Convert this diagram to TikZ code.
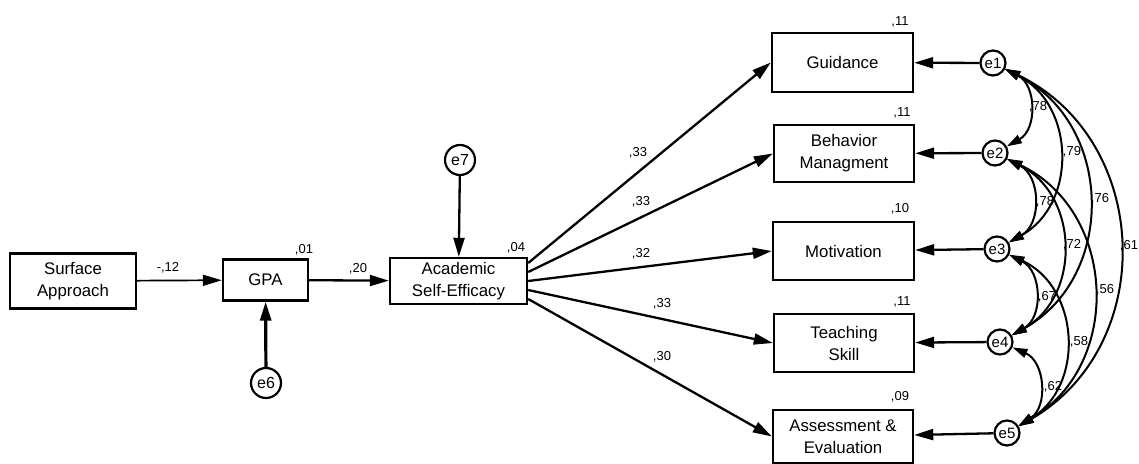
\documentclass[tikz,border=0pt]{standalone}
\usepackage{fontspec}
\setmainfont{Liberation Sans}
\usetikzlibrary{arrows.meta}
\begin{document}
\begin{tikzpicture}[x=0.5pt,y=0.5pt,
  box/.style={draw, line width=1.2pt, align=center, inner sep=0pt, font=\fontsize{8.4}{11}\selectfont},
  err/.style={draw, circle, line width=1.1pt, inner sep=0pt, minimum size=12.5pt, font=\fontsize{7.5}{9}\selectfont},
  errbig/.style={err, minimum size=15pt, font=\fontsize{8}{9}\selectfont},
  lab/.style={inner sep=0pt, font=\fontsize{6.5}{8}\selectfont},
  path/.style={line width=1.15pt, -{Triangle[length=9.5pt,width=5.5pt]}},
  corr/.style={line width=1pt, {Triangle[length=7.5pt,width=4.5pt]}-{Triangle[length=7.5pt,width=4.5pt]}, bend left=62, looseness=1.16},
]
\useasboundingbox (0,0) rectangle (1139,-464);

% left part
\node[box, minimum width=63pt, minimum height=27.5pt] (sa) at (73,-281) {Surface\\Approach};
\node[box, minimum width=42.5pt, minimum height=20.5pt] (gpa) at (265.5,-280) {GPA};
\node[box, minimum width=68.5pt, minimum height=23pt] (ase) at (458.5,-281) {Academic\\Self-Efficacy};
\node[errbig] (e7) at (460,-160) {e7};
\node[errbig] (e6) at (266,-383) {e6};

% right boxes
\node[box, minimum width=70.5pt, minimum height=29.5pt] (g) at (842.5,-62.5) {Guidance};
\node[box, minimum width=70pt, minimum height=28.5pt] (b) at (844,-153.5) {Behavior\\Managment};
\node[box, minimum width=70.5pt, minimum height=29pt] (m) at (843.5,-251) {Motivation};
\node[box, minimum width=70pt, minimum height=29pt] (t) at (844,-343) {Teaching\\Skill};
\node[box, minimum width=70pt, minimum height=26.5pt] (a) at (843,-436.5) {Assessment \&\\Evaluation};

% error terms
\node[err] (e1) at (993,-63) {e1};
\node[err] (e2) at (995,-153) {e2};
\node[err] (e3) at (997,-249) {e3};
\node[err] (e4) at (1000,-342) {e4};
\node[err] (e5) at (1007,-433) {e5};

% labels
\node[lab] at (168,-268) {-,12};
\node[lab] at (304,-250) {,01};
\node[lab] at (358,-269) {,20};
\node[lab] at (516,-248) {,04};
\node[lab] at (638,-153) {,33};
\node[lab] at (641,-202) {,33};
\node[lab] at (641,-254) {,32};
\node[lab] at (662,-304) {,33};
\node[lab] at (662,-357) {,30};
\node[lab] at (900,-22) {,11};
\node[lab] at (902,-113) {,11};
\node[lab] at (900,-209) {,10};
\node[lab] at (902,-302) {,11};
\node[lab] at (900,-397) {,09};
\node[lab] at (1038,-107) {,78};
\node[lab] at (1072,-152) {,79};
\node[lab] at (1045,-202) {,78};
\node[lab] at (1100,-199) {,76};
\node[lab] at (1072,-245) {,72};
\node[lab] at (1129,-246) {,61};
\node[lab] at (1047,-297) {,67};
\node[lab] at (1105,-290) {,56};
\node[lab] at (1079,-342) {,58};
\node[lab] at (1053,-387) {,62};

% paths
\draw[path, line width=0.85pt] (sa) -- (gpa);
\draw[path] (gpa) -- (ase);
\draw[path, line width=1.6pt] (e6) -- (gpa);
\draw[path] (e7) -- (ase);
\draw[path] ([yshift=9pt]ase.east) -- (g.west);
\draw[path] ([yshift=4.5pt]ase.east) -- (b.west);
\draw[path] (ase.east) -- (m.west);
\draw[path] ([yshift=-4.5pt]ase.east) -- (t.west);
\draw[path] ([yshift=-9pt]ase.east) -- (a.west);
\draw[path] (e1) -- (g);
\draw[path] (e2) -- (b);
\draw[path] (e3) -- (m);
\draw[path] (e4) -- (t);
\draw[path] (e5) -- (a);

% correlations
\draw[corr] (e1) to (e2);
\draw[corr] (e1) to (e3);
\draw[corr] (e1) to (e4);
\draw[corr] (e1) to (e5);
\draw[corr] (e2) to (e3);
\draw[corr] (e2) to (e4);
\draw[corr] (e2) to (e5);
\draw[corr] (e3) to (e4);
\draw[corr] (e3) to (e5);
\draw[corr] (e4) to (e5);
\end{tikzpicture}
\end{document}
